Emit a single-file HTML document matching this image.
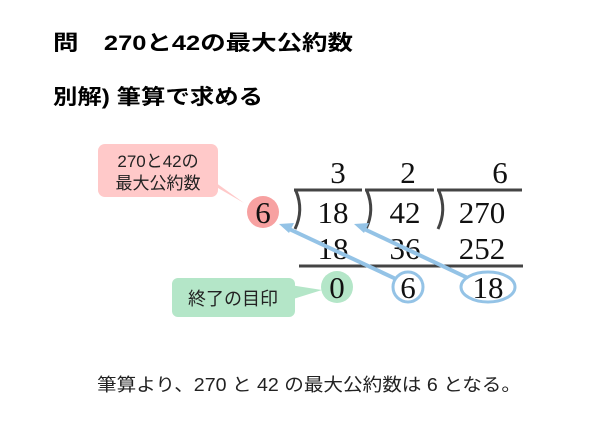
<!DOCTYPE html>
<html><head><meta charset="utf-8"><style>
html,body{margin:0;padding:0;background:#fff;}
svg{display:block;}
.j{font-family:"Liberation Sans","Noto Sans CJK JP",sans-serif;}
.n{font-family:"Liberation Serif","DejaVu Serif",serif;font-size:31px;fill:#111;}
</style></head><body>
<svg width="600" height="424" viewBox="0 0 600 424" xmlns="http://www.w3.org/2000/svg">
<text class="j" x="53" y="50" font-size="21" font-weight="bold" textLength="300" lengthAdjust="spacingAndGlyphs">問　270と42の最大公約数</text>
<text class="j" x="53" y="104" font-size="21" font-weight="bold" textLength="210" lengthAdjust="spacingAndGlyphs">別解)  筆算で求める</text>

<!-- pink callout -->
<rect x="98" y="144" width="120" height="53" rx="7" fill="#ffc9c9"/>
<polygon points="212,180 244,203 218,188" fill="#ffc9c9"/>
<text class="j" x="158" y="167" font-size="17" text-anchor="middle" fill="#222">270と42の</text>
<text class="j" x="158" y="189" font-size="17" text-anchor="middle" fill="#222">最大公約数</text>

<circle cx="263" cy="212" r="16" fill="#f7a1a1"/>
<text class="n" x="263" y="223" text-anchor="middle">6</text>

<!-- brackets and lines -->
<g stroke="#444" stroke-width="3" fill="none">
<path d="M294 190 H362"/><path d="M296 191 Q304 210 295 229"/>
<path d="M365 190 H434"/><path d="M367 191 Q375 210 366 229"/>
<path d="M437 190 H522"/><path d="M439 191 Q447 210 438 229"/>
<path d="M299 266 H523"/>
</g>

<text class="n" x="338" y="183" text-anchor="middle">3</text>
<text class="n" x="408" y="183" text-anchor="middle">2</text>
<text class="n" x="500" y="183" text-anchor="middle">6</text>
<text class="n" x="333" y="223" text-anchor="middle">18</text>
<text class="n" x="405" y="223" text-anchor="middle">42</text>
<text class="n" x="482" y="223" text-anchor="middle">270</text>
<text class="n" x="333" y="259" text-anchor="middle">18</text>
<text class="n" x="405" y="259" text-anchor="middle">36</text>
<text class="n" x="482" y="259" text-anchor="middle">252</text>

<!-- arrows -->
<g stroke="#94c3e6" stroke-width="4" fill="none">
<line x1="396" y1="279" x2="287" y2="228"/>
<line x1="470" y1="279" x2="362" y2="228"/>
</g>
<polygon points="279,224 294,223 289,233" fill="#94c3e6"/>
<polygon points="354,224 369,223 364,233" fill="#94c3e6"/>

<!-- green callout -->
<rect x="172" y="278" width="123" height="39" rx="6" fill="#b4e6c8"/>
<polygon points="290,285 322,290 290,300" fill="#b4e6c8"/>
<text class="j" x="233" y="305" font-size="18" text-anchor="middle" fill="#222">終了の目印</text>

<circle cx="337" cy="287" r="16" fill="#b4e6c8"/>
<text class="n" x="337" y="298" text-anchor="middle">0</text>
<circle cx="408" cy="287" r="15" fill="#fff" stroke="#94c3e6" stroke-width="3"/>
<text class="n" x="408" y="298" text-anchor="middle">6</text>
<ellipse cx="488" cy="287" rx="27" ry="15" fill="#fff" stroke="#94c3e6" stroke-width="3"/>
<text class="n" x="488" y="298" text-anchor="middle">18</text>

<text class="j" x="97" y="391" font-size="18" fill="#222" textLength="424" lengthAdjust="spacingAndGlyphs">筆算より、270 と 42 の最大公約数は 6 となる。</text>
</svg>
</body></html>
